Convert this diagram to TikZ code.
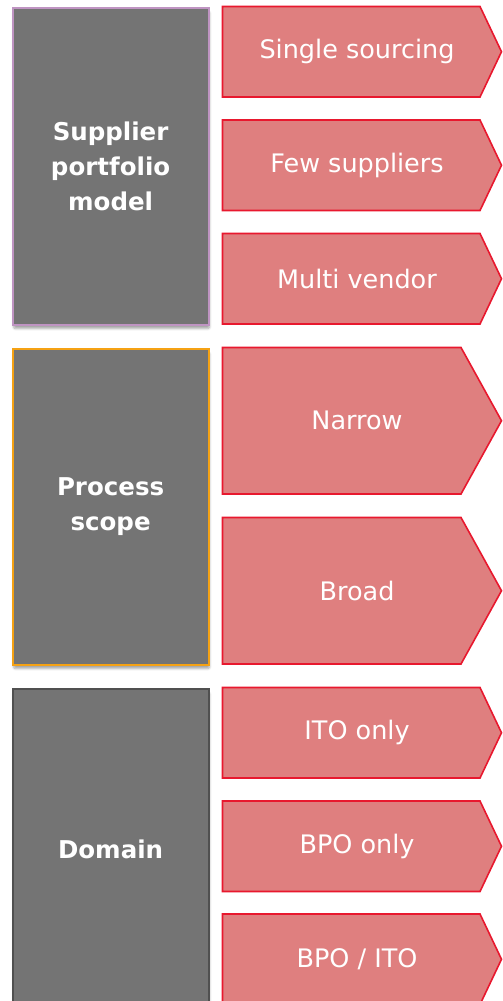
\documentclass[tikz,border=0pt]{standalone}
\usepackage{fontspec}
\setmainfont{DejaVu Sans}
\usetikzlibrary{shadows.blur}

\definecolor{panelgray}{HTML}{747474}
\definecolor{edgepurple}{HTML}{BF94C2}
\definecolor{edgeorange}{HTML}{F5A214}
\definecolor{edgedark}{HTML}{505050}
\definecolor{chevfill}{HTML}{DF7F7F}
\definecolor{chevedge}{HTML}{E8182E}

\tikzset{
  catbox/.style={rectangle, fill=panelgray, line width=2.2pt, anchor=north west,
    minimum width=196pt, text=white, align=center,
    font=\bfseries\fontsize{24.5}{35}\selectfont,
    blur shadow={shadow xshift=1pt, shadow yshift=-4pt, shadow blur steps=6,
      shadow blur extra rounding=2pt, shadow opacity=35}},
  chevshape/.style={fill=chevfill, draw=chevedge, line width=1.6pt, line join=miter},
  chevtext/.style={text=white, font=\fontsize{25.5}{30}\selectfont}
}

% one option chevron: name, top, bottom, right end of the body, text
\newcommand\optchev[5]{%
  \draw[chevshape] (222.5,#2) -- (#4,#2) -- (501.5,{(#2+#3)/2}) -- (#4,#3) -- (222.5,#3) -- cycle;
  \node[chevtext] (#1) at (357,{(#2+#3)/2}) {#5};}

\begin{document}
\begin{tikzpicture}[x=1pt,y=-1pt]
\useasboundingbox (0,0) rectangle (503,1001);
\clip (0,0) rectangle (503,1001);

% category panels
\node[catbox, draw=edgepurple, minimum height=317pt] (portfolio) at (11.5,6.5)
  {Supplier\\portfolio\\model};
\node[catbox, draw=edgeorange, minimum height=316pt] (scope) at (11.5,347.5)
  {Process\\scope};
\node[catbox, draw=edgedark, minimum height=322pt] (domain) at (11.5,687.5)
  {Domain};

% options per category
\optchev{single}{6.5}{97}{480}{Single sourcing}
\optchev{few}{120}{210.5}{480}{Few suppliers}
\optchev{multi}{233.5}{324}{480}{Multi vendor}
\optchev{narrow}{347.5}{494}{461}{Narrow}
\optchev{broad}{517.5}{664}{461}{Broad}
\optchev{ito}{687.5}{778}{480}{ITO only}
\optchev{bpo}{801}{891.5}{480}{BPO only}
\optchev{both}{914}{1004.5}{480}{BPO / ITO}
\end{tikzpicture}
\end{document}
